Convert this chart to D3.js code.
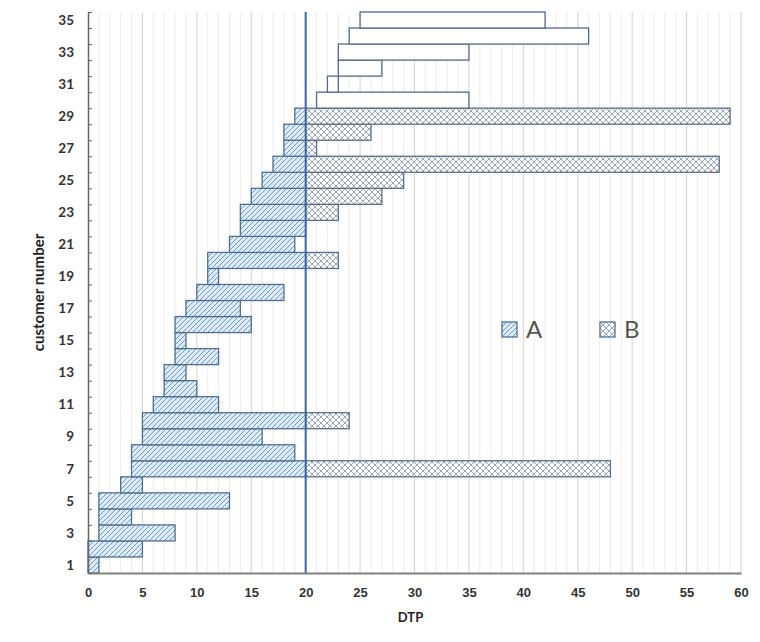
<!DOCTYPE html>
<html>
<head>
<meta charset="utf-8">
<script src="https://cdn.jsdelivr.net/npm/d3@7"></script>
<style>
  body { margin: 0; background: #fff; }
  svg { font-family: Lato, "Open Sans", sans-serif; }
</style>
</head>
<body>
<div id="chart"></div>
<script>
// customers and their DTP ranges
const customers = d3.range(1, 36);
const startVals = [0, 0, 1, 1, 1, 3, 4, 4, 5, 5, 6, 7, 7, 8, 8, 8, 9, 10, 11, 11,
                   13, 14, 14, 15, 16, 17, 18, 18, 19, 21, 22, 23, 23, 24, 25];
const endVals   = [1, 5, 8, 4, 13, 5, 48, 19, 16, 24, 12, 10, 9, 12, 9, 15, 14, 18, 12, 23,
                   19, 20, 23, 27, 29, 58, 21, 26, 59, 35, 23, 27, 35, 46, 42];
const threshold = 20;
const xTicks = d3.range(0, 61, 5);
const yLabels = d3.range(1, 36, 2);
const legendItems = ["A", "B"];

(function() {
  const W = 760, H = 642;
  const left = 88, right = 741, top = 12, bottom = 573;

  const svg = d3.select("#chart").append("svg")
      .attr("width", W).attr("height", H);

  const defs = svg.append("defs");
  const pa = defs.append("pattern").attr("id", "hatchA")
      .attr("patternUnits", "userSpaceOnUse").attr("width", 5).attr("height", 5);
  pa.append("rect").attr("width", 5).attr("height", 5).attr("fill", "#dcedf9");
  pa.append("path").attr("d", "M-1,1 l2,-2 M0,5 l5,-5 M4,6 l2,-2")
      .attr("stroke", "#7399c0").attr("stroke-width", 1);

  const pb = defs.append("pattern").attr("id", "hatchB")
      .attr("patternUnits", "userSpaceOnUse").attr("width", 6).attr("height", 6);
  pb.append("rect").attr("width", 6).attr("height", 6).attr("fill", "#fff");
  pb.append("path").attr("d", "M0,0 L6,6 M6,0 L0,6")
      .attr("stroke", "#9aa6b4").attr("stroke-width", 1);

  const x = d3.scaleLinear().domain([0, 60]).range([left, right]);
  const y = d3.scaleBand().domain(customers).range([bottom, top]).padding(0);
  const yLin = d3.scaleLinear().domain([0.5, 35.5]).range([bottom, top]);

  // vertical grid lines, every unit
  svg.append("g").selectAll("line")
    .data(d3.range(1, 61))
    .join("line")
      .attr("x1", d => x(d)).attr("x2", d => x(d))
      .attr("y1", top).attr("y2", bottom)
      .attr("stroke", d => d % 5 === 0 ? "#d2d2d2" : "#ececec")
      .attr("stroke-width", 1);

  // build segments from start/end
  const rows = customers.map((c, i) => ({c: c, s: startVals[i], e: endVals[i]}));
  const segs = [];
  rows.forEach(r => {
    if (r.s >= threshold) {
      segs.push({c: r.c, a: r.s, b: r.e, kind: "plain"});
    } else {
      segs.push({c: r.c, a: r.s, b: Math.min(r.e, threshold), kind: "A"});
      if (r.e > threshold) segs.push({c: r.c, a: threshold, b: r.e, kind: "B"});
    }
  });

  const fillFor = {A: "url(#hatchA)", B: "url(#hatchB)", plain: "#fff"};
  const strokeFor = {A: "#4f6f92", B: "#55708f", plain: "#4e6a8e"};

  svg.append("g").selectAll("rect")
    .data(segs)
    .join("rect")
      .attr("x", d => x(d.a))
      .attr("y", d => y(d.c))
      .attr("width", d => x(d.b) - x(d.a))
      .attr("height", y.bandwidth())
      .attr("fill", d => fillFor[d.kind])
      .attr("stroke", d => strokeFor[d.kind])
      .attr("stroke-width", 1.3);

  // threshold line
  svg.append("line")
    .attr("x1", x(threshold)).attr("x2", x(threshold))
    .attr("y1", top).attr("y2", bottom)
    .attr("stroke", "#3b67a7").attr("stroke-width", 2);

  // x axis
  const xAxis = svg.append("g")
    .attr("transform", `translate(0,${bottom})`)
    .call(d3.axisBottom(x).tickValues(xTicks).tickSize(0).tickPadding(15));
  xAxis.select(".domain").attr("stroke", "#808080").attr("stroke-width", 2);
  xAxis.selectAll("text").attr("font-size", 13).attr("font-weight", "bold").attr("fill", "#333");

  // y axis: line and ticks at band edges
  const yTicks = svg.append("g")
    .attr("transform", `translate(${left},0)`)
    .call(d3.axisRight(yLin).tickValues(d3.range(0.5, 36, 1)).tickFormat("").tickSize(4).tickSizeOuter(0));
  yTicks.select(".domain").attr("stroke", "#666").attr("stroke-width", 1.5);
  yTicks.selectAll(".tick line").attr("stroke", "#666");

  // y labels at odd customers
  svg.append("g").selectAll("text")
    .data(yLabels)
    .join("text")
      .attr("x", 74)
      .attr("y", d => y(d) + y.bandwidth() / 2)
      .attr("dy", "0.35em")
      .attr("text-anchor", "end")
      .attr("font-size", 13.5)
      .attr("font-weight", "bold")
      .attr("fill", "#333")
      .text(d => d);

  svg.append("text")
    .attr("transform", `translate(44,${(top + bottom) / 2}) rotate(-90)`)
    .attr("text-anchor", "middle")
    .attr("font-size", 15)
    .attr("font-weight", "bold")
    .attr("fill", "#222")
    .text("customer number");

  svg.append("text")
    .attr("x", (left + right) / 2 - 4)
    .attr("y", 622)
    .attr("text-anchor", "middle")
    .attr("font-size", 13)
    .attr("font-weight", "bold")
    .attr("fill", "#222")
    .text("DTP");

  // legend
  const leg = svg.append("g").selectAll("g")
    .data(legendItems)
    .join("g")
      .attr("transform", (d, i) => `translate(${502 + i * 98},322)`);
  leg.append("rect")
    .attr("width", 15).attr("height", 15)
    .attr("fill", d => fillFor[d])
    .attr("stroke", d => strokeFor[d]).attr("stroke-width", 1.3);
  leg.append("text")
    .attr("x", 24).attr("y", 16)
    .attr("font-size", 24)
    .attr("fill", "#555")
    .text(d => d);
})();
</script>
</body>
</html>
